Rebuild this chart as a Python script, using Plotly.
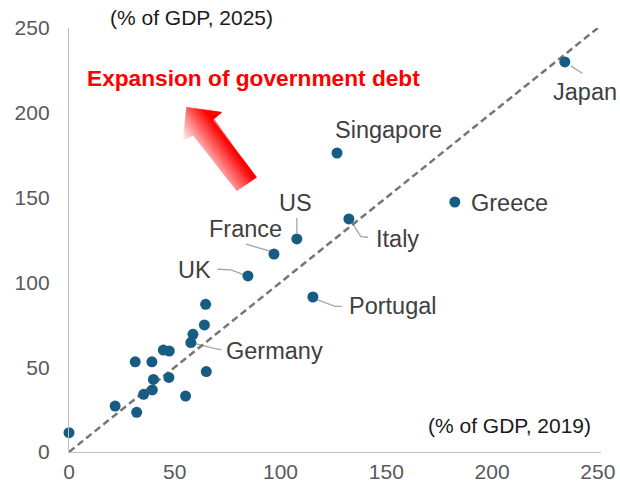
import numpy as np
import plotly.graph_objects as go

# ---- data ----
labeled_names = ["Japan", "Greece", "Singapore", "Italy", "US", "France", "UK", "Portugal", "Germany"]
labeled_2019 = [234.4, 182.4, 126.7, 132.3, 107.7, 96.9, 84.6, 115.3, 57.6]
labeled_2025 = [230.0, 147.4, 176.3, 137.4, 125.6, 116.7, 103.8, 91.4, 64.5]

other_2019 = [64.6, 64.0, 58.6, 44.6, 47.4, 31.3, 39.2, 64.9, 39.9, 47.2, 39.4, 35.3, 55.1, 21.8, 32.0, 0.0]
other_2025 = [87.1, 74.9, 69.4, 60.1, 59.5, 53.2, 53.2, 47.4, 42.8, 44.0, 36.6, 34.0, 33.0, 27.1, 23.4, 11.4]

tick_vals = [0, 50, 100, 150, 200, 250]

# ---- styles ----
FONT = "Liberation Sans, Arial, sans-serif"
DOT = "#175d83"
LABEL_C = "#404040"
TICK_C = "#595959"
LEADER_C = "#a6a6a6"

# label placement: (xshift, yshift, xanchor)
label_pos = {
    "Japan": (20, -30, "center"),
    "Greece": (14, -1, "left"),
    "Singapore": (51, 23, "center"),
    "Italy": (25, -20, "left"),
    "US": (-1, 36, "center"),
    "France": (-28, 25, "center"),
    "UK": (-35, 6, "right"),
    "Portugal": (34, -9, "left"),
    "Germany": (33, -8, "left"),
}
# leader polylines in pixel offsets from the point (y up)
leaders = {
    "Japan": [(6, -4), (17.7, -11.6)],
    "Italy": [(2, -2), (12, -17.7), (19.3, -18.3)],
    "US": [(0, 6), (0, 21)],
    "France": [(-28, 10), (-3, 2.6)],
    "UK": [(-30.4, 6.7), (-17, 6), (-4.4, 1.3)],
    "Portugal": [(4, -2.7), (22.3, -9.4), (29, -9.4)],
    "Germany": [(0.7, 0), (22.3, -5.6), (30.7, -7.3)],
}

fig = go.Figure()

# 45-degree reference line
fig.add_trace(go.Scatter(x=[0, 250], y=[0, 250], mode="lines",
                         line=dict(color="#767676", width=2.5, dash="7px,4px"),
                         hoverinfo="skip", showlegend=False))

# gradient arrow (decoration), built from strips
arrow = np.array([
    [55.6, 203.2], [72.2, 200.3], [67.9, 195.8], [88.7, 162.0],
    [79.3, 154.1], [58.7, 186.9], [54.0, 183.6]])
SX, SY = 2.116, 1.696
pix = np.column_stack([arrow[:, 0] * SX, -arrow[:, 1] * SY])
d = np.array([70.0, -50.0]); d = d / np.linalg.norm(d)
proj = pix @ d
pmin, pmax = proj.min(), proj.max()


def clip(poly, lo, hi):
    def clip_half(pts, keep):
        out = []
        n = len(pts)
        for i in range(n):
            a, b = pts[i], pts[(i + 1) % n]
            fa, fb = keep(a), keep(b)
            if fa >= 0:
                out.append(a)
            if (fa >= 0) != (fb >= 0):
                t = fa / (fa - fb)
                out.append(a + t * (b - a))
        return out
    pts = [p for p in poly]
    pts = clip_half(pts, lambda p: (np.array([p[0] * SX, -p[1] * SY]) @ d) - lo)
    if not pts:
        return []
    pts = clip_half(pts, lambda p: hi - (np.array([p[0] * SX, -p[1] * SY]) @ d))
    return pts


NS = 28
for i in range(NS):
    lo = pmin + (pmax - pmin) * i / NS
    hi = pmin + (pmax - pmin) * (i + 1) / NS
    poly = clip(arrow, lo - 0.3, hi + 0.3)
    if len(poly) < 3:
        continue
    t = min(1.0, ((i + 0.5) / NS) / 0.75)
    g = int(round(255 * (1 - t)))
    col = f"rgb(255,{g},{g})"
    poly = np.array(poly)
    fig.add_trace(go.Scatter(x=list(poly[:, 0]) + [poly[0, 0]], y=list(poly[:, 1]) + [poly[0, 1]],
                             mode="lines", fill="toself", fillcolor=col,
                             line=dict(color=col, width=0.5),
                             hoverinfo="skip", showlegend=False))

# points
fig.add_trace(go.Scatter(x=other_2019 + labeled_2019, y=other_2025 + labeled_2025,
                         mode="markers", marker=dict(color=DOT, size=11),
                         cliponaxis=False, showlegend=False))

shapes = []
annotations = []
for name, xv, yv in zip(labeled_names, labeled_2019, labeled_2025):
    xs, ys, xa = label_pos[name]
    annotations.append(dict(x=xv, y=yv, xref="x", yref="y", text=name, showarrow=False,
                            xshift=xs, yshift=ys, xanchor=xa, yanchor="middle",
                            font=dict(family=FONT, size=23.5, color=LABEL_C)))
    if name in leaders:
        pts = leaders[name]
        path = "M " + " L ".join(f"{px},{py}" for px, py in pts)
        shapes.append(dict(type="path", xref="x", yref="y", xsizemode="pixel", ysizemode="pixel",
                           xanchor=xv, yanchor=yv, path=path, layer="below",
                           line=dict(color=LEADER_C, width=1.3)))

annotations += [
    dict(x=0.231, y=1.0236, xref="paper", yref="paper", text="(% of GDP, 2025)", showarrow=False,
         xanchor="center", yanchor="middle", font=dict(family=FONT, size=21, color="#1a1a1a")),
    dict(x=208.4, y=15.9, xref="x", yref="y", text="(% of GDP, 2019)", showarrow=False,
         xanchor="center", yanchor="middle", font=dict(family=FONT, size=21, color="#1a1a1a")),
    dict(x=87.2, y=220.5, xref="x", yref="y", text="<b>Expansion of government debt</b>", showarrow=False,
         xanchor="center", yanchor="middle", font=dict(family=FONT, size=22.7, color="#ff0000")),
]

fig.update_layout(
    width=620, height=486,
    margin=dict(l=69, r=19, t=28, b=34),
    paper_bgcolor="white", plot_bgcolor="white",
    shapes=shapes, annotations=annotations,
    showlegend=False,
    xaxis=dict(range=[0, 251.5], tickvals=tick_vals, showgrid=False, zeroline=False,
               showline=True, linecolor="#bfbfbf", linewidth=1.3, ticks="",
               ticklabelstandoff=1, automargin=False,
               tickfont=dict(family=FONT, size=21, color=TICK_C)),
    yaxis=dict(range=[0, 250], tickvals=tick_vals, showgrid=False, zeroline=False,
               showline=True, linecolor="#bfbfbf", linewidth=1.3, ticks="",
               ticklabelstandoff=14, automargin=False,
               tickfont=dict(family=FONT, size=21, color=TICK_C)),
)

fig.write_html("out.html", config={"displayModeBar": False},
               post_script="document.body.style.margin='0';document.body.style.overflow='hidden';")
